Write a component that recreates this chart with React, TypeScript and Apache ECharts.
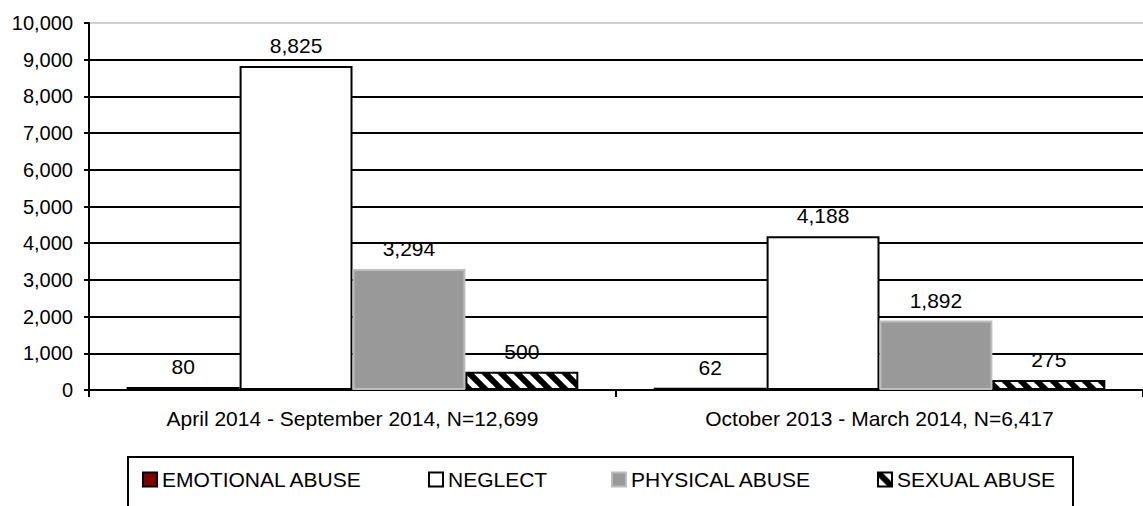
import React, { useEffect, useRef } from "react";
import * as echarts from "echarts";

const categories = [
  "April 2014 - September 2014, N=12,699",
  "October 2013 - March 2014, N=6,417",
];
const seriesNames = ["EMOTIONAL ABUSE", "NEGLECT", "PHYSICAL ABUSE", "SEXUAL ABUSE"];
const emotionalAbuse = [80, 62];
const neglect = [8825, 4188];
const physicalAbuse = [3294, 1892];
const sexualAbuse = [500, 275];
const yTicks = { min: 0, max: 10000, interval: 1000 };

const FONT = "'Liberation Sans', Arial, sans-serif";

function makeHatch(): HTMLCanvasElement {
  const c = document.createElement("canvas");
  const s = 16;
  c.width = s;
  c.height = s;
  const ctx = c.getContext("2d")!;
  ctx.fillStyle = "#ffffff";
  ctx.fillRect(0, 0, s, s);
  ctx.strokeStyle = "#000000";
  ctx.lineWidth = 6;
  for (const off of [-s, 0, s]) {
    ctx.beginPath();
    ctx.moveTo(off - 2, -2);
    ctx.lineTo(off + s + 2, s + 2);
    ctx.stroke();
  }
  return c;
}

export default function App() {
  const ref = useRef<HTMLDivElement>(null);
  useEffect(() => {
    if (!ref.current) return;
    const chart = echarts.init(ref.current, undefined, { renderer: "svg" });
    const hatch = makeHatch();
    const label = {
      show: true,
      position: "top",
      distance: 10,
      color: "#000",
      fontSize: 21,
      fontFamily: FONT,
      formatter: (p: any) => Number(p.value).toLocaleString("en-US"),
    };
    const styles = [
      { color: "#800000", borderColor: "#000000", borderWidth: 2 },
      { color: "#ffffff", borderColor: "#000000", borderWidth: 2 },
      { color: "#999999", borderColor: "#bdbdbd", borderWidth: 2 },
      { color: { image: hatch, repeat: "repeat" }, borderColor: "#000000", borderWidth: 2 },
    ];
    const values = [emotionalAbuse, neglect, physicalAbuse, sexualAbuse];
    const legendLefts = [142, 428, 611, 877];
    const splitColors = [];
    for (let i = 0; i < 10; i++) splitColors.push("#000000");
    splitColors.push("#d0d0d0");

    chart.setOption({
      animation: false,
      grid: { left: 89, top: 23, width: 1064, height: 367 },
      legend: seriesNames.map((n, i) => ({
        data: [n],
        left: legendLefts[i],
        top: 469,
        padding: 0,
        icon: "rect",
        itemWidth: 14,
        itemHeight: 14,
        textStyle: { fontSize: 21, fontFamily: FONT, color: "#000" },
        selectedMode: false,
      })),
      xAxis: {
        type: "category",
        data: categories,
        axisLine: { lineStyle: { color: "#000", width: 2 } },
        axisTick: { show: true, length: 7, lineStyle: { color: "#000", width: 2 } },
        axisLabel: { fontSize: 21, fontFamily: FONT, color: "#000", margin: 18 },
        splitLine: { show: false },
      },
      yAxis: {
        type: "value",
        min: yTicks.min,
        max: yTicks.max,
        interval: yTicks.interval,
        axisLine: { show: true, lineStyle: { color: "#000", width: 2 } },
        axisTick: { show: true, length: 5, lineStyle: { color: "#000", width: 2 } },
        axisLabel: {
          fontSize: 20,
          fontFamily: FONT,
          color: "#000",
          margin: 16,
          formatter: (v: number) => v.toLocaleString("en-US"),
        },
        splitLine: { show: true, lineStyle: { color: splitColors, width: 2 } },
      },
      series: seriesNames.map((n, i) => ({
        name: n,
        type: "bar",
        data: values[i],
        barGap: "0%",
        barCategoryGap: "14.3%",
        itemStyle: styles[i],
        label,
      })),
      graphic: [
        {
          type: "rect",
          shape: { x: 128, y: 457, width: 945, height: 80 },
          style: { fill: "none", stroke: "#000", lineWidth: 2 },
          silent: true,
        },
      ],
    });
    return () => chart.dispose();
  }, []);
  return (
    <div
      ref={ref}
      style={{ position: "fixed", left: 0, top: 0, width: 1143, height: 506, background: "#fff" }}
    />
  );
}
